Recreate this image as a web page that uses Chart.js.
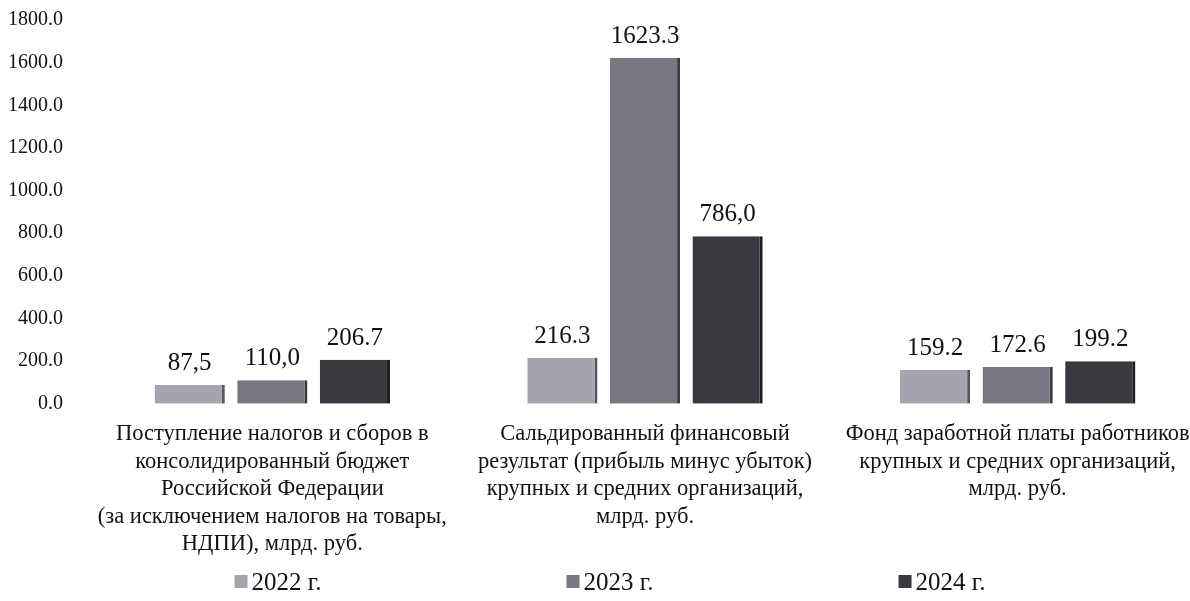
<!DOCTYPE html>
<html>
<head>
<meta charset="utf-8">
<script src="https://cdn.jsdelivr.net/npm/chart.js@4.4.1/dist/chart.umd.min.js"></script>
<style>
  body { margin: 0; background: #fff; overflow: hidden; }
</style>
</head>
<body>
<canvas id="barChart" width="1204" height="601"></canvas>
<script>
// категории (подписи по оси X, по строкам)
const categories = [
    ['Поступление налогов и сборов в', 'консолидированный бюджет', 'Российской Федерации', '(за исключением налогов на товары,', 'НДПИ), млрд. руб.'],
    ['Сальдированный финансовый', 'результат (прибыль минус убыток)', 'крупных и средних организаций,', 'млрд. руб.'],
    ['Фонд заработной платы работников', 'крупных и средних организаций,', 'млрд. руб.']
];
const years = ['2022 г.', '2023 г.', '2024 г.'];

// значения по годам
const values2022 = [87.5, 216.3, 159.2];
const values2023 = [110.0, 1623.3, 172.6];
const values2024 = [206.7, 786.0, 199.2];

// подписи над столбцами (как в оригинале)
const text2022 = ['87,5', '216.3', '159.2'];
const text2023 = ['110,0', '1623.3', '172.6'];
const text2024 = ['206.7', '786,0', '199.2'];

// ось Y
const yMin = 0;
const yMax = 1800;
const yStep = 200;

const barColors = ['#a4a4ae', '#777782', '#393940'];
const edgeColors = ['#55555c', '#3a3a40', '#1c1c20'];
const serif = '"Liberation Serif", "DejaVu Serif", serif';

// подписи значений над столбцами
const valueLabels = {
    id: 'valueLabels',
    afterDatasetsDraw(chart) {
        const ctx = chart.ctx;
        const texts = [text2022, text2023, text2024];
        ctx.save();
        ctx.font = '25px ' + serif;
        ctx.fillStyle = '#111';
        ctx.textAlign = 'center';
        ctx.textBaseline = 'bottom';
        chart.data.datasets.forEach(function(ds, i){
            chart.getDatasetMeta(i).data.forEach(function(bar, j){
                ctx.fillText(texts[i][j], bar.x, bar.y - 9);
            });
        });
        ctx.restore();
    }
};

// легенда внизу, широко разнесённая
const wideLegend = {
    id: 'wideLegend',
    afterDraw(chart) {
        const ctx = chart.ctx;
        const spacing = 332;
        const centerX = 610;
        const y = 582;
        ctx.save();
        ctx.font = '25px ' + serif;
        ctx.textBaseline = 'middle';
        ctx.textAlign = 'left';
        chart.data.datasets.forEach(function(ds, i){
            const label = ds.label;
            const w = 14 + 3 + ctx.measureText(label).width;
            const x0 = centerX + (i - 1) * spacing - w / 2;
            ctx.fillStyle = barColors[i];
            ctx.fillRect(x0, y - 7, 13, 13);
            ctx.fillStyle = '#111';
            ctx.fillText(label, x0 + 17, y + 1);
        });
        ctx.restore();
    }
};

function makeDataset(label, data, i){
    return {
        label: label,
        data: data,
        backgroundColor: barColors[i],
        borderColor: edgeColors[i],
        borderWidth: { top: 0, left: 0, bottom: 0, right: 3 },
        borderSkipped: false,
        categoryPercentage: 0.665,
        barPercentage: 0.85
    };
}

const ctx = document.getElementById('barChart').getContext('2d');
const chart = new Chart(ctx, {
    type: 'bar',
    data: {
        labels: categories,
        datasets: [
            makeDataset(years[0], values2022, 0),
            makeDataset(years[1], values2023, 1),
            makeDataset(years[2], values2024, 2)
        ]
    },
    options: {
        responsive: false,
        animation: false,
        layout: {
            padding: { top: 20, left: 8, right: 0, bottom: 26 }
        },
        scales: {
            x: {
                grid: { display: false, drawTicks: false },
                border: { display: false },
                afterFit: function(scale){
                    // длинные подписи не должны сжимать область графика
                    scale.paddingLeft = 0;
                    scale.paddingRight = 0;
                },
                ticks: {
                    color: '#111',
                    padding: 17,
                    maxRotation: 0,
                    autoSkip: false,
                    font: { family: serif, size: 22.5, lineHeight: 1.22 }
                }
            },
            y: {
                min: yMin,
                max: yMax,
                grid: { display: false, drawTicks: false },
                border: { display: false },
                afterFit: function(scale){
                    scale.width = 78;
                    scale.paddingTop = 0;
                    scale.paddingBottom = 0;
                },
                ticks: {
                    stepSize: yStep,
                    color: '#111',
                    padding: 23,
                    font: { family: serif, size: 20 },
                    callback: function(v){ return Number(v).toFixed(1); }
                }
            }
        },
        plugins: {
            legend: { display: false },
            tooltip: { enabled: false }
        }
    },
    plugins: [valueLabels, wideLegend]
});
</script>
</body>
</html>
